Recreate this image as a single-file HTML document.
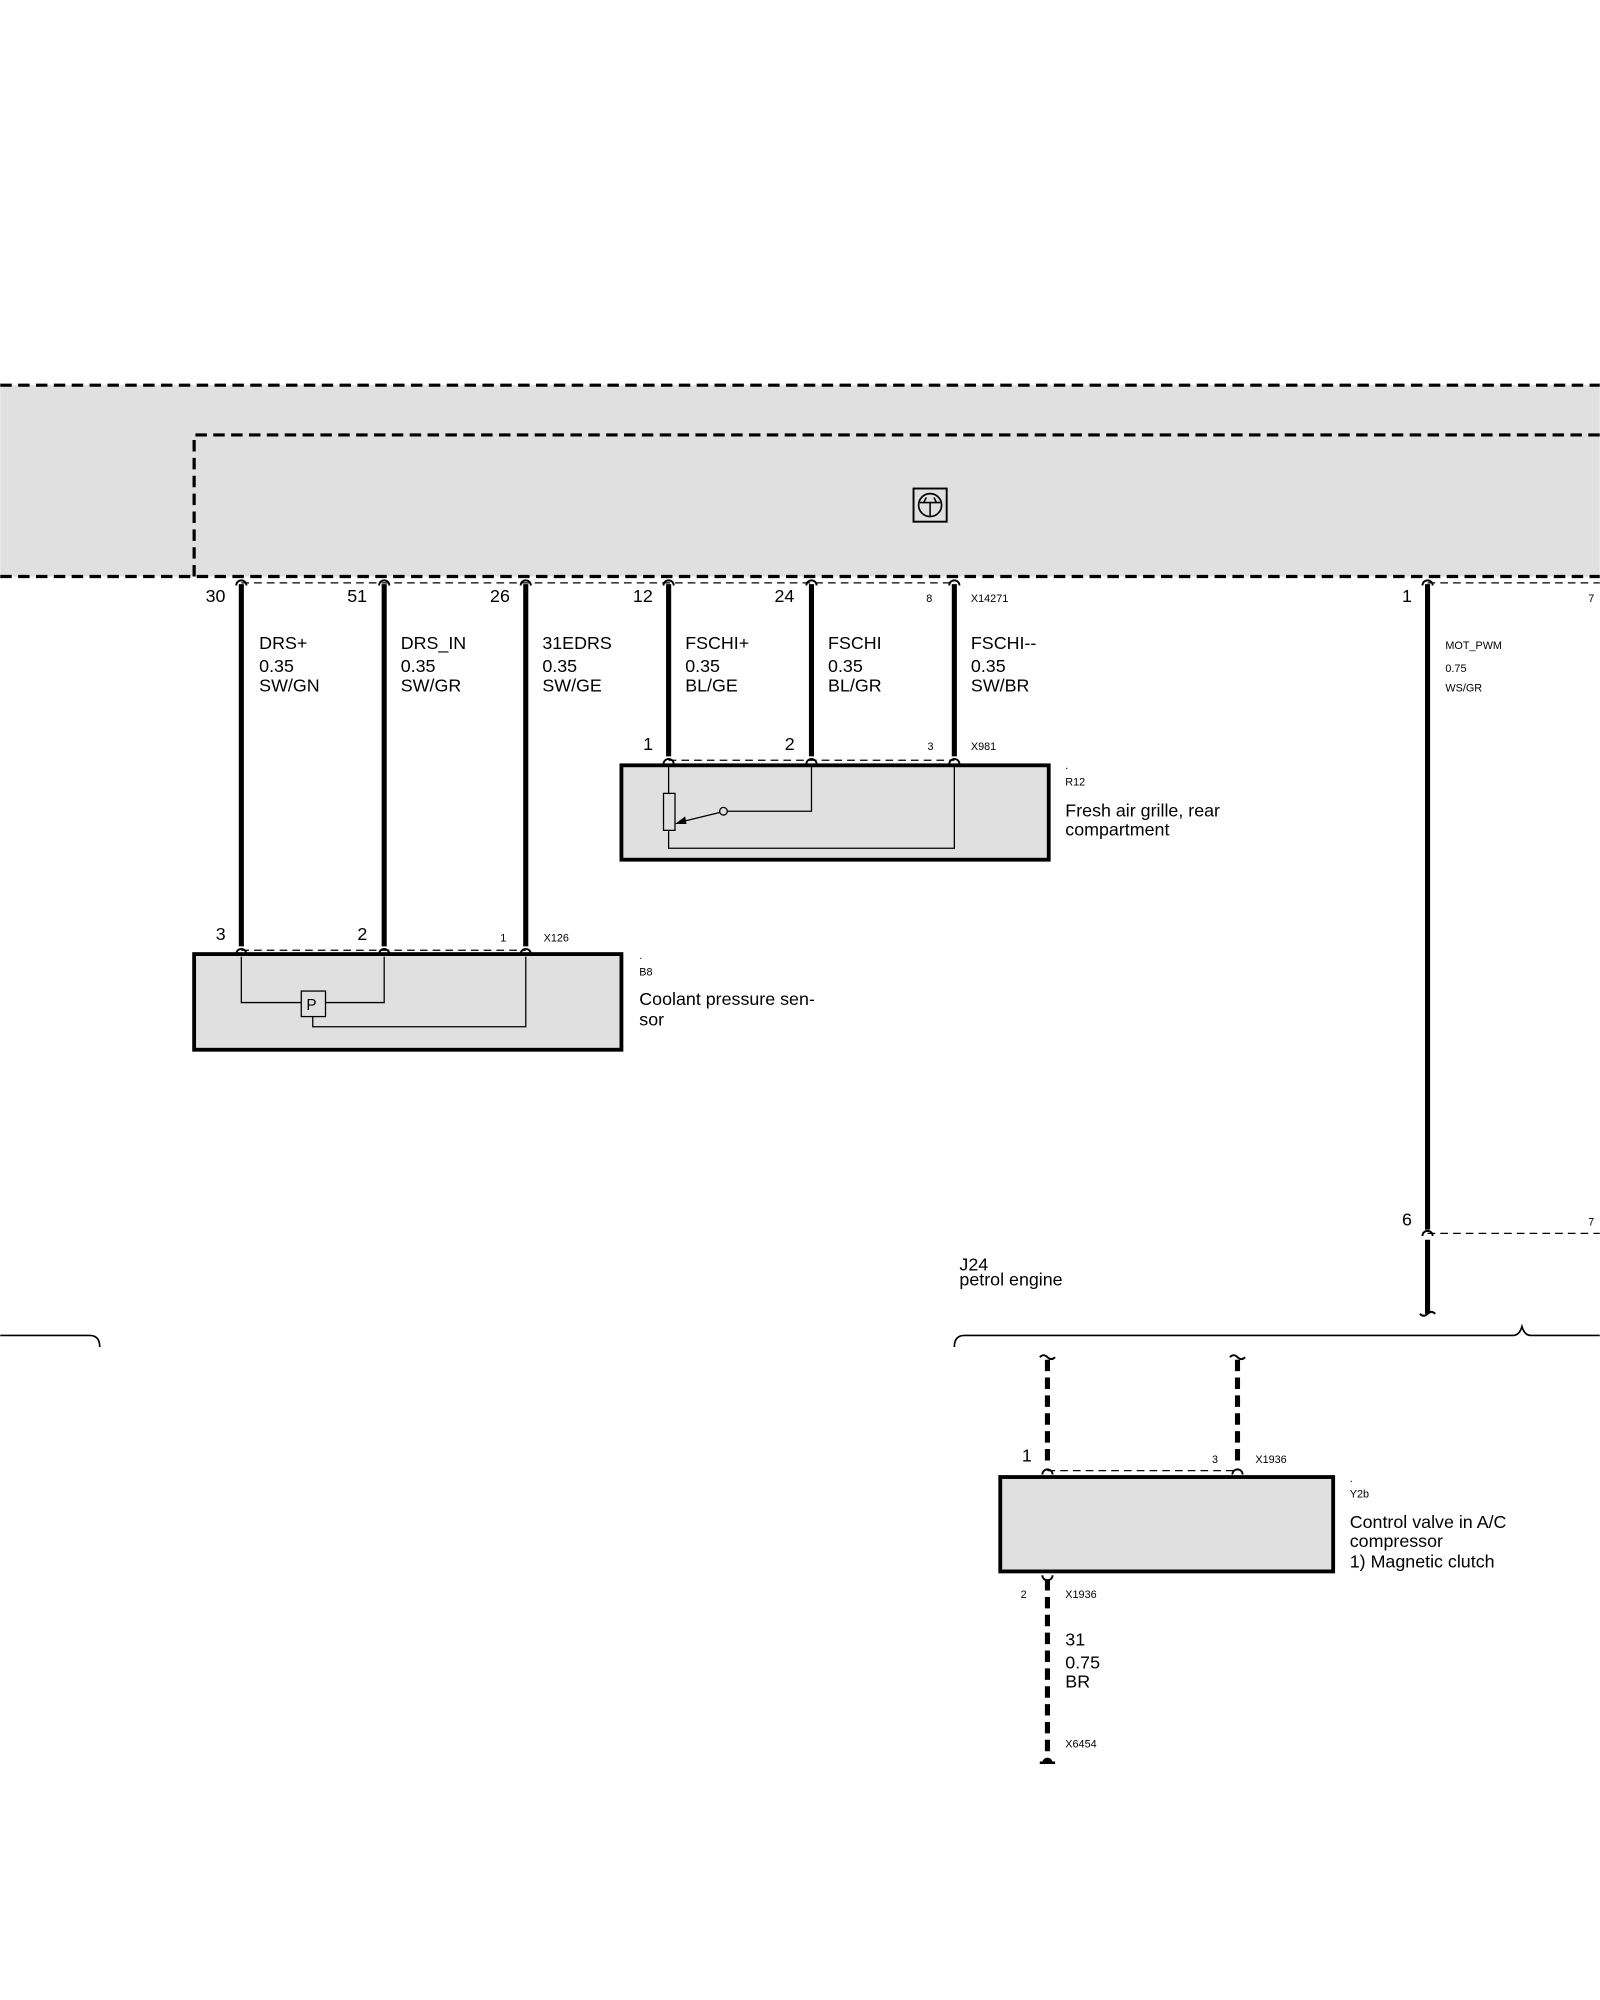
<!DOCTYPE html>
<html><head><meta charset="utf-8"><style>
html,body{margin:0;padding:0;background:#fff;}
svg{display:block;}
text{font-family:"Liberation Sans",sans-serif;fill:#000;}
.m{font-size:14px;}
.s{font-size:8.5px;}
</style></head><body>
<svg width="1600" height="2000" viewBox="0 0 1254 1568" xmlns="http://www.w3.org/2000/svg">
<rect x="0" y="302" width="1254" height="150" fill="#e0e0e0"/>
<line x1="0" y1="302" x2="1254" y2="302" stroke="#000" stroke-width="2.5" stroke-dasharray="9,5"/>
<line x1="0" y1="452" x2="1254" y2="452" stroke="#000" stroke-width="2.5" stroke-dasharray="9,5"/>
<path d="M152 452 V341 H1254" fill="none" stroke="#000" stroke-width="2.5" stroke-dasharray="9,5"/>
<rect x="716" y="383" width="26" height="26" fill="none" stroke="#000" stroke-width="1.5"/>
<circle cx="729" cy="396" r="9" fill="none" stroke="#000" stroke-width="1.3"/>
<path d="M721 394 H737 M729 394 V405 M724 394 L726 390 M734 394 L732 390" stroke="#000" stroke-width="1.2" fill="none"/>

<g stroke="#000" stroke-width="1" stroke-dasharray="6,4">
<line x1="189" y1="457" x2="748" y2="457"/>
<line x1="1119" y1="457" x2="1254" y2="457"/>
<line x1="524" y1="596" x2="748" y2="596"/>
<line x1="189" y1="745" x2="412" y2="745"/>
<line x1="1119" y1="967" x2="1254" y2="967"/>
<line x1="821" y1="1153" x2="970" y2="1153"/>
</g>
<g stroke="#000" stroke-width="4">
<line x1="189" y1="458" x2="189" y2="742"/>
<line x1="301" y1="458" x2="301" y2="742"/>
<line x1="412" y1="458" x2="412" y2="742"/>
<line x1="524" y1="458" x2="524" y2="593"/>
<line x1="636" y1="458" x2="636" y2="593"/>
<line x1="748" y1="458" x2="748" y2="593"/>
<line x1="1119" y1="458" x2="1119" y2="964"/>
<line x1="1119" y1="972" x2="1119" y2="1030"/>
</g>
<g fill="none" stroke="#000" stroke-width="1.5">
<path d="M185 459 a4 4 0 0 1 8 0 M297 459 a4 4 0 0 1 8 0 M408 459 a4 4 0 0 1 8 0 M520 459 a4 4 0 0 1 8 0 M632 459 a4 4 0 0 1 8 0 M744 459 a4 4 0 0 1 8 0 M1115 459 a4 4 0 0 1 8 0"/>
<path d="M520 599 a4 4 0 0 1 8 0 M632 599 a4 4 0 0 1 8 0 M744 599 a4 4 0 0 1 8 0"/>
<path d="M185 748 a4 4 0 0 1 8 0 M297 748 a4 4 0 0 1 8 0 M408 748 a4 4 0 0 1 8 0"/>
<path d="M1115 969 a4 4 0 0 1 8 0"/>
<path d="M817 1156 a4 4 0 0 1 8 0 M966 1156 a4 4 0 0 1 8 0"/>
<path d="M817 1235 a4 4 0 0 0 8 0"/>
<path d="M1113 1030 q3 3 6 0 q3 -3 6 0"/>
<path d="M815 1064 q3 -3 6 0 q3 3 6 0 M964 1064 q3 -3 6 0 q3 3 6 0"/>
</g>
<!-- braces -->
<path d="M0 1047 H70 Q78 1047 78 1056" fill="none" stroke="#000" stroke-width="1.3"/>
<path d="M748 1056 Q748 1047 756 1047 H1186 Q1191 1047 1193 1040 Q1195 1047 1200 1047 H1254" fill="none" stroke="#000" stroke-width="1.3"/>

<!-- dashed thick wires -->
<g stroke="#000" stroke-width="4" stroke-dasharray="9,5">
<line x1="821" y1="1066" x2="821" y2="1150"/>
<line x1="970" y1="1066" x2="970" y2="1150"/>
<line x1="821" y1="1238" x2="821" y2="1378"/>
</g>
<path d="M817 1382 a4 4 0 0 1 8 0 Z" fill="#000"/>
<line x1="815" y1="1382" x2="827" y2="1382" stroke="#000" stroke-width="2"/>

<!-- boxes -->
<rect x="487" y="600" width="335" height="74" fill="#e0e0e0" stroke="#000" stroke-width="3"/>
<rect x="152" y="748" width="335" height="75" fill="#e0e0e0" stroke="#000" stroke-width="3"/>
<rect x="784" y="1158" width="261" height="74" fill="#e0e0e0" stroke="#000" stroke-width="3"/>

<!-- R12 internals -->
<g fill="none" stroke="#000" stroke-width="1">
<path d="M524 600 V622 M524 651 V665 H748 V600"/>
<rect x="520" y="622" width="9" height="29"/>
<path d="M636 600 V636 H570"/>
<circle cx="567" cy="636" r="3"/>
<line x1="564" y1="637" x2="531" y2="645"/>
</g>
<path d="M529 646 L537 640 L538 646 Z" fill="#000"/>
<!-- B8 internals -->
<g fill="none" stroke="#000" stroke-width="1">
<path d="M189 750 V786 H236 M301 750 V786 H255 M412 750 V805 H245 V797"/>
<rect x="236" y="777" width="19" height="20"/>
</g>
<text x="240" y="792" style="font-size:12px">P</text>

<!-- labels -->
<g class="m">
<text x="161" y="472">30</text><text x="272" y="472">51</text><text x="384" y="472">26</text>
<text x="496" y="472">12</text><text x="607" y="472">24</text>
<text x="203" y="509">DRS+</text><text x="203" y="527">0.35</text><text x="203" y="542">SW/GN</text>
<text x="314" y="509">DRS_IN</text><text x="314" y="527">0.35</text><text x="314" y="542">SW/GR</text>
<text x="425" y="509">31EDRS</text><text x="425" y="527">0.35</text><text x="425" y="542">SW/GE</text>
<text x="537" y="509">FSCHI+</text><text x="537" y="527">0.35</text><text x="537" y="542">BL/GE</text>
<text x="649" y="509">FSCHI</text><text x="649" y="527">0.35</text><text x="649" y="542">BL/GR</text>
<text x="761" y="509">FSCHI--</text><text x="761" y="527">0.35</text><text x="761" y="542">SW/BR</text>
<text x="504" y="588">1</text><text x="615" y="588">2</text>
<text x="835" y="640">Fresh air grille, rear</text><text x="835" y="655">compartment</text>
<text x="169" y="737">3</text><text x="280" y="737">2</text>
<text x="501" y="788">Coolant pressure sen-</text><text x="501" y="804">sor</text>
<text x="1099" y="472">1</text><text x="1099" y="961">6</text>
<text x="752" y="996">J24</text><text x="752" y="1008">petrol engine</text>
<text x="801" y="1146">1</text>
<text x="1058" y="1198">Control valve in A/C</text><text x="1058" y="1213">compressor</text><text x="1058" y="1229">1) Magnetic clutch</text>
<text x="835" y="1290">31</text><text x="835" y="1308">0.75</text><text x="835" y="1323">BR</text>
</g>
<g class="s">
<text x="726" y="472">8</text><text x="761" y="472">X14271</text>
<text x="727" y="588">3</text><text x="761" y="588">X981</text>
<text x="835" y="603">.</text><text x="835" y="616">R12</text>
<text x="392" y="738">1</text><text x="426" y="738">X126</text>
<text x="501" y="752">.</text><text x="501" y="765">B8</text>
<text x="1245" y="472">7</text><text x="1245" y="961">7</text>
<text x="1133" y="509">MOT_PWM</text><text x="1133" y="527">0.75</text><text x="1133" y="542">WS/GR</text>
<text x="950" y="1147">3</text><text x="984" y="1147">X1936</text>
<text x="1058" y="1162">.</text><text x="1058" y="1174">Y2b</text>
<text x="800" y="1253">2</text><text x="835" y="1253">X1936</text>
<text x="835" y="1370">X6454</text>
</g>
</svg>
</body></html>
